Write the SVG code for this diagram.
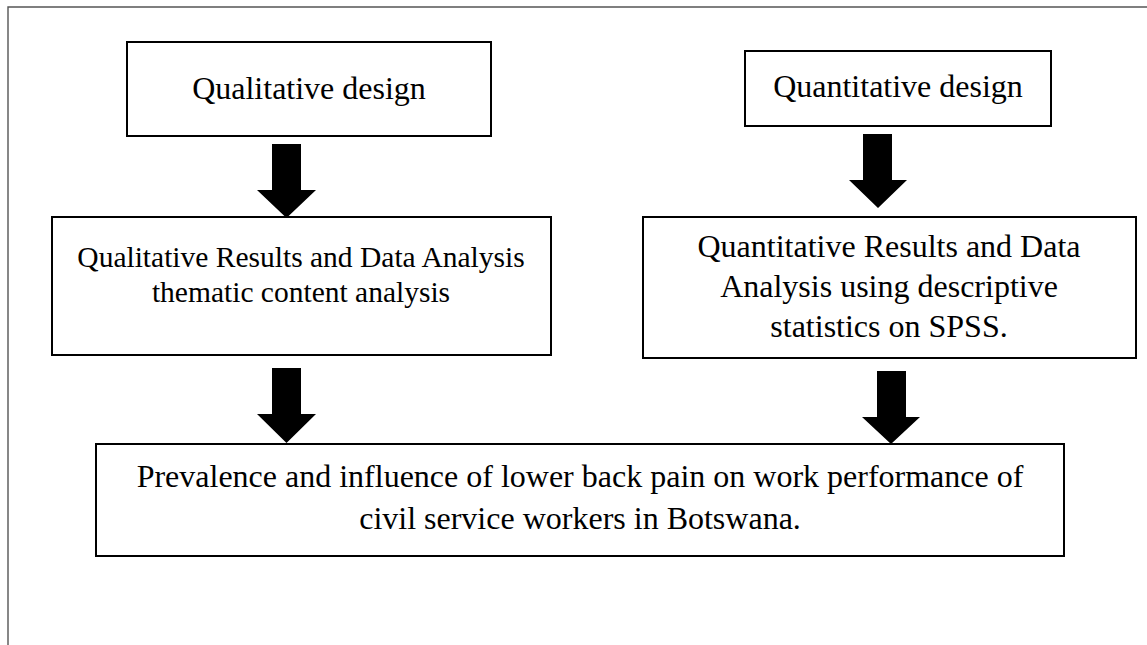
<svg xmlns="http://www.w3.org/2000/svg" width="1147" height="645" viewBox="0 0 1147 645">
<style>
.box{fill:#fff;stroke:#000;stroke-width:2}
.frame{fill:none;stroke:#555;stroke-width:1.4}
.t{font-family:"Liberation Serif","Times New Roman",serif;fill:#000;text-anchor:middle}
.arrow{fill:#000;stroke:none}
</style>
<rect width="1147" height="645" fill="#fff"/>
<path class="frame" d="M8,645 V7 H1147"/>
<g id="connectors">
<path class="arrow" d="M272,144 H301 V190 H316 L286.5,218 L257,190 H272 Z"/>
<path class="arrow" d="M863,134 H892 V180 H907 L878,208 L849,180 H863 Z"/>
<path class="arrow" d="M272,368 H301 V414 H316 L286.5,443 L257,414 H272 Z"/>
<path class="arrow" d="M877,371 H906 V417 H920 L891,444 L862,417 H877 Z"/>
</g>
<g id="qualitative-design">
<rect class="box" x="127" y="42" width="364" height="94"/>
<text class="t" x="309" y="99" font-size="32">Qualitative design</text>
</g>
<g id="quantitative-design">
<rect class="box" x="745" y="51" width="306" height="75"/>
<text class="t" x="898" y="97" font-size="32">Quantitative design</text>
</g>
<g id="qualitative-results">
<rect class="box" x="52" y="217" width="499" height="138"/>
<text class="t" x="301" y="267" font-size="29.5">Qualitative Results and Data Analysis</text>
<text class="t" x="301" y="302" font-size="29.5">thematic content analysis</text>
</g>
<g id="quantitative-results">
<rect class="box" x="643" y="217" width="493" height="141"/>
<text class="t" x="889" y="257" font-size="32">Quantitative Results and Data</text>
<text class="t" x="889" y="297" font-size="32">Analysis using descriptive</text>
<text class="t" x="889" y="337" font-size="32">statistics on SPSS.</text>
</g>
<g id="outcome">
<rect class="box" x="96" y="444" width="968" height="112"/>
<text class="t" x="580" y="487" font-size="32">Prevalence and influence of lower back pain on work performance of</text>
<text class="t" x="580" y="529" font-size="32">civil service workers in Botswana.</text>
</g>
</svg>
